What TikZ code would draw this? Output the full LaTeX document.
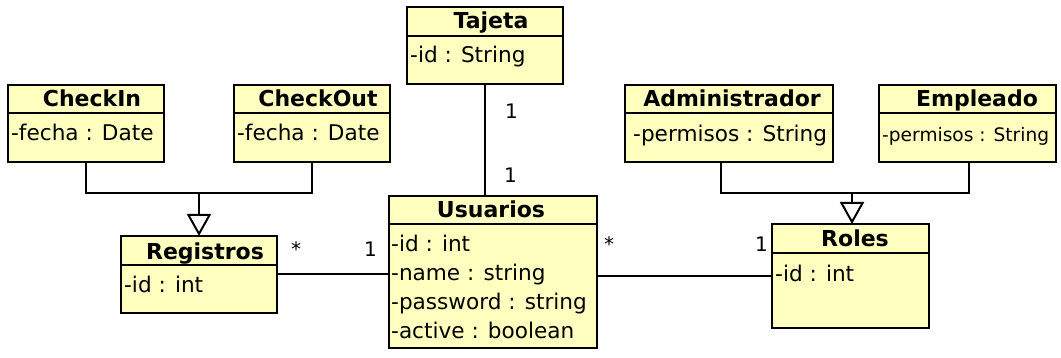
\documentclass[tikz,border=0pt]{standalone}
\usepackage{fontspec}
\setmainfont{DejaVu Sans}
\usetikzlibrary{arrows.meta}
\definecolor{clsfill}{RGB}{255,255,192}
\tikzset{
  x=1pt, y=-1pt,
  cls/.style={draw, line width=2pt, fill=clsfill, anchor=north west, inner sep=0pt, outer sep=0pt},
  sep/.style={line width=2pt},
  ttl/.style={anchor=base, inner sep=0pt, font=\fontsize{22}{26}\selectfont\bfseries},
  attr/.style={anchor=base west, inner sep=0pt, font=\fontsize{21.6}{25}\selectfont},
  small attr/.style={anchor=base west, inner sep=0pt, font=\fontsize{18.6}{22}\selectfont},
  mult/.style={anchor=base west, inner sep=0pt, font=\fontsize{20}{24}\selectfont},
  link/.style={line width=2pt},
  gen/.style={line width=2pt, -{Triangle[open, fill=white, length=22pt, width=24pt]}},
}
\begin{document}
\begin{tikzpicture}
\useasboundingbox[fill=white] (0,0) rectangle (1061,358);

% Tajeta
\node[cls, minimum width=156pt, minimum height=77pt] (taj) at (407,7) {};
\draw[sep] (taj.west |- 0,36) -- (taj.east |- 0,36);
\node[ttl] (tajT) at (491,29) {Tajeta};
\node[attr] (tajA) at (410,63) {-id : String};

% CheckIn
\node[cls, minimum width=156pt, minimum height=77pt] (cin) at (8,85) {};
\draw[sep] (cin.west |- 0,113) -- (cin.east |- 0,113);
\node[ttl] (cinT) at (92,107) {CheckIn};
\node[attr] (cinA) at (11,141) {-fecha : Date};

% CheckOut
\node[cls, minimum width=156pt, minimum height=77pt] (cout) at (234,85) {};
\draw[sep] (cout.west |- 0,113) -- (cout.east |- 0,113);
\node[ttl] (coutT) at (318,107) {CheckOut};
\node[attr] (coutA) at (237,141) {-fecha : Date};

% Administrador
\node[cls, minimum width=208pt, minimum height=77pt] (adm) at (625,85) {};
\draw[sep] (adm.west |- 0,113) -- (adm.east |- 0,113);
\node[ttl] (admT) at (732,107) {Administrador};
\node[attr] (admA) at (633,142) {-permisos : String};

% Empleado
\node[cls, minimum width=177pt, minimum height=77pt] (emp) at (879,85) {};
\draw[sep] (emp.west |- 0,113) -- (emp.east |- 0,113);
\node[ttl] (empT) at (977,107) {Empleado};
\node[small attr] (empA) at (882,142) {-permisos : String};

% Usuarios
\node[cls, minimum width=208pt, minimum height=152pt] (usu) at (389,196) {};
\draw[sep] (usu.west |- 0,224) -- (usu.east |- 0,224);
\node[ttl] (usuT) at (491,218) {Usuarios};
\node[attr] (usuA1) at (391,252) {-id : int};
\node[attr] (usuA2) at (391,281) {-name : string};
\node[attr] (usuA3) at (391,309) {-password : string};
\node[attr] (usuA4) at (391,338) {-active : boolean};

% Registros
\node[cls, minimum width=156pt, minimum height=77pt] (reg) at (121,236) {};
\draw[sep] (reg.west |- 0,265) -- (reg.east |- 0,265);
\node[ttl] (regT) at (205,260) {Registros};
\node[attr] (regA) at (124,293) {-id : int};

% Roles
\node[cls, minimum width=157pt, minimum height=104pt] (rol) at (772,224) {};
\draw[sep] (rol.west |- 0,253) -- (rol.east |- 0,253);
\node[ttl] (rolT) at (855,247) {Roles};
\node[attr] (rolA) at (775,282) {-id : int};

% Associations
\draw[link] (taj.south) -- (taj.south |- usu.north);
\node[mult] (m1) at (505,119) {1};
\node[mult] (m2) at (504,183) {1};

\draw[link] (reg.east) -- (reg.east -| usu.west);
\node[mult] (m3) at (291,257) {*};
\node[mult] (m4) at (364,257) {1};

\draw[link] (rol.west) -- (rol.west -| usu.east);
\node[mult] (m5) at (604,252) {*};
\node[mult] (m6) at (755,252) {1};

% Generalisations
\coordinate (jr) at (199,193);
\draw[link] (cin.south) |- (jr) -| (cout.south);
\draw[gen] (jr) -- (reg.north);

\coordinate (jl) at (852,193);
\draw[link] ([xshift=-8pt]adm.south) |- (jl) -| ([xshift=1pt]emp.south);
\draw[gen] (jl) -- (jl |- rol.north);
\end{tikzpicture}
\end{document}
